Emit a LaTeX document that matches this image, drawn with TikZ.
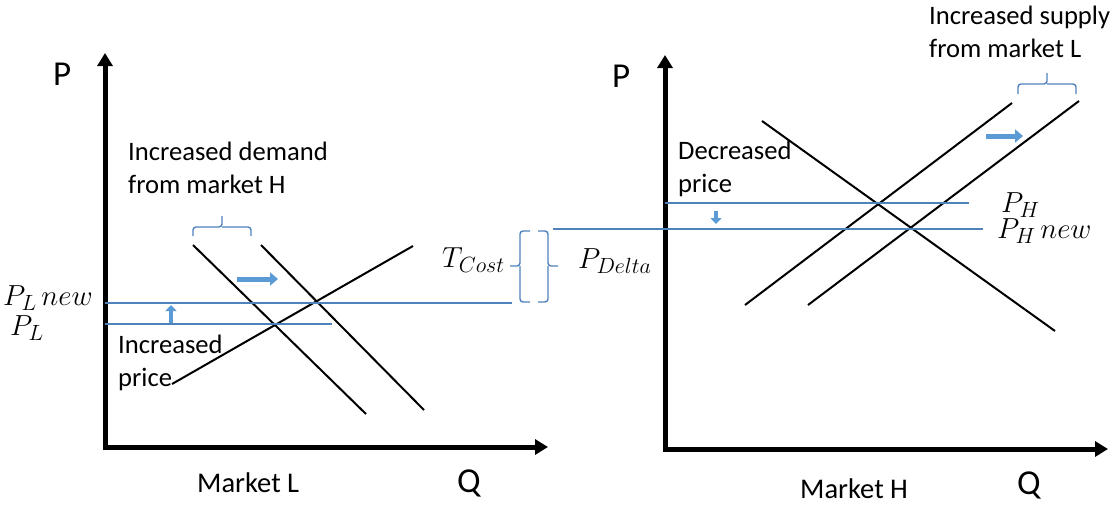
\RequirePackage{fix-cm}
\documentclass[tikz,border=0pt]{standalone}
\usepackage{fontspec}
\setmainfont{Carlito}
\DeclareMathSizes{29}{29}{22}{17}
\usetikzlibrary{arrows.meta}
\definecolor{lineblue}{RGB}{79,129,189}
\definecolor{arrowblue}{RGB}{91,155,213}
\begin{document}
\begin{tikzpicture}[x=1pt,y=-1pt,
  axis/.style={line width=5pt, line join=miter, {Triangle[length=13pt,width=15pt]}-{Triangle[length=13pt,width=15pt]}},
  curve/.style={line width=2pt, black},
  pline/.style={line width=1.6pt, lineblue},
  shiftarrow/.style={line width=5pt, arrowblue, -{Triangle[length=8pt,width=13pt]}},
  smallarrow/.style={line width=4.5pt, arrowblue, -{Triangle[length=6pt,width=11pt]}},
  bracebox/.style={line width=1.4pt, lineblue, rounded corners=3pt},
  lbl/.style={inner sep=0pt, anchor=base west, align=left, font=\fontsize{26.6}{33}\selectfont},
  mkt/.style={inner sep=0pt, anchor=base west, font=\fontsize{28.5}{33}\selectfont},
  axlbl/.style={inner sep=0pt, anchor=base west, font=\fontsize{35}{40}\selectfont},
  mathlbl/.style={inner sep=0pt, anchor=base west, font=\fontsize{29}{33}\selectfont},
]
\useasboundingbox (0,0) rectangle (1114,504);

% ---------- Left chart: Market L ----------
\coordinate (LY) at (105,53);
\coordinate (LO) at (105,447);
\coordinate (LX) at (548,447);
\draw[axis] (LY) -- (LO) -- (LX);

\coordinate (LD1a) at (193,245); \coordinate (LD1b) at (366,414);
\coordinate (LD2a) at (261,245); \coordinate (LD2b) at (424,410);
\coordinate (LSa) at (172,384);  \coordinate (LSb) at (413,246);
\draw[curve] (LD1a) -- (LD1b);
\draw[curve] (LD2a) -- (LD2b);
\draw[curve] (LSa) -- (LSb);

\coordinate (PLn0) at (105,303); \coordinate (PLn1) at (512,303);
\coordinate (PL0) at (105,324);  \coordinate (PL1) at (332,324);
\draw[pline] (PLn0) -- (PLn1);
\draw[pline] (PL0) -- (PL1);

\coordinate (LA0) at (237,279); \coordinate (LA1) at (278,279);
\draw[shiftarrow] (LA0) -- (LA1);
\coordinate (UA0) at (171,323); \coordinate (UA1) at (171,305);
\draw[smallarrow] (UA0) -- (UA1);

\coordinate (LBl) at (193,236); \coordinate (LBm) at (222,227);
\coordinate (LBt) at (222,216); \coordinate (LBr) at (251,236);
\draw[bracebox] (LBl) |- (LBm) -- (LBt);
\draw[bracebox] (LBr) |- (LBm);

\node[lbl] (incdem) at (128,193) {Increased demand\\from market H};
\node[lbl] (incpr) at (118,386) {Increased\\price};
\node[axlbl] (PlblL) at (53,85) {P};
\node[axlbl] (QlblL) at (457,492) {Q};
\node[mkt] (mktL) at (197,492) {Market L};
\node[mathlbl] (PLnew) at (3,305) {$P_{L}\,new$};
\node[mathlbl] (PLlbl) at (10,335) {$P_{L}$};

% ---------- Middle braces ----------
\coordinate (B1t) at (530,231); \coordinate (B1b) at (530,302);
\coordinate (B1m) at (520,266); \coordinate (B1tip) at (510,266);
\draw[bracebox] (B1t) -| (B1m) -- (B1tip);
\draw[bracebox] (B1b) -| (B1m);
\coordinate (B2t) at (538,231); \coordinate (B2b) at (538,302);
\coordinate (B2m) at (548,266); \coordinate (B2tip) at (558,266);
\draw[bracebox] (B2t) -| (B2m) -- (B2tip);
\draw[bracebox] (B2b) -| (B2m);
\node[mathlbl] (Tcost) at (442,267) {$T_{Cost}$};
\node[mathlbl] (Pdelta) at (578,268) {$P_{Delta}$};

% ---------- Right chart: Market H ----------
\coordinate (RY) at (665,55);
\coordinate (RO) at (665,449);
\coordinate (RX) at (1108,449);
\draw[axis] (RY) -- (RO) -- (RX);

\coordinate (RDa) at (762,121);  \coordinate (RDb) at (1055,331);
\coordinate (RS1a) at (745,305); \coordinate (RS1b) at (1012,103);
\coordinate (RS2a) at (808,305); \coordinate (RS2b) at (1079,101);
\draw[curve] (RDa) -- (RDb);
\draw[curve] (RS1a) -- (RS1b);
\draw[curve] (RS2a) -- (RS2b);

\coordinate (PH0) at (665,203);  \coordinate (PH1) at (969,203);
\coordinate (PHn0) at (553,229); \coordinate (PHn1) at (983,229);
\draw[pline] (PH0) -- (PH1);
\draw[pline] (PHn0) -- (PHn1);

\coordinate (RA0) at (986,136); \coordinate (RA1) at (1023,136);
\draw[shiftarrow] (RA0) -- (RA1);
\coordinate (DA0) at (716,211); \coordinate (DA1) at (716,224);
\draw[smallarrow] (DA0) -- (DA1);

\coordinate (RBl) at (1018,94); \coordinate (RBm) at (1047,84);
\coordinate (RBt) at (1047,73); \coordinate (RBr) at (1076,94);
\draw[bracebox] (RBl) |- (RBm) -- (RBt);
\draw[bracebox] (RBr) |- (RBm);

\node[lbl] (incsup) at (929,57) {Increased supply\\from market L};
\node[lbl] (decpr) at (678,192) {Decreased\\price};
\node[axlbl] (PlblR) at (612,87) {P};
\node[axlbl] (QlblR) at (1017,494) {Q};
\node[mkt] (mktH) at (800,498) {Market H};
\node[mathlbl] (PHlbl) at (1001,212) {$P_{H}$};
\node[mathlbl] (PHnew) at (997,238) {$P_{H}\,new$};
\end{tikzpicture}
\end{document}
